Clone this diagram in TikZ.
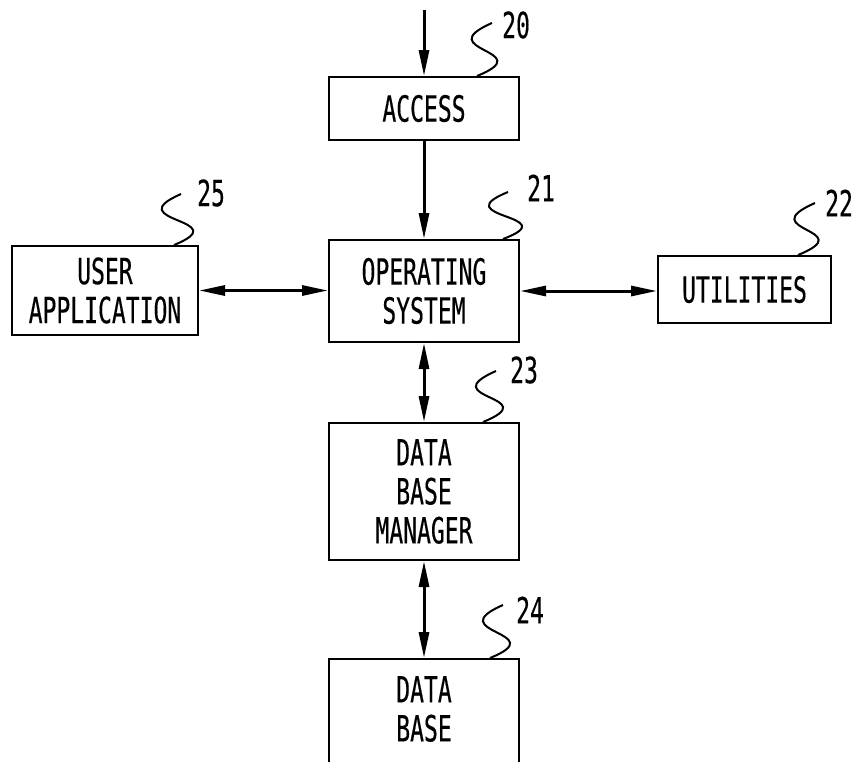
\documentclass[tikz,border=0pt]{standalone}
\usepackage{fontspec}
\newfontfamily\patfont[FakeStretch=0.64,FakeBold=0.35]{DejaVu Sans Mono}
\usetikzlibrary{arrows.meta}
\begin{document}
\begin{tikzpicture}[x=1pt,y=-1pt,
  lettering/.style={font=\patfont\fontsize{36pt}{39pt}\selectfont},
  box/.style={draw, line width=2pt, rectangle, inner sep=0pt, align=center, lettering},
  frame/.style={draw, line width=2pt, rectangle, inner sep=0pt},
  txt/.style={inner sep=0pt, align=center, lettering},
  num/.style={inner sep=0pt, anchor=west, lettering},
  lead/.style={line width=2pt},
  flow/.style={line width=3pt, -{Triangle[length=26pt,width=10pt]}},
  flowboth/.style={line width=3pt, {Triangle[length=26pt,width=10pt]}-{Triangle[length=26pt,width=10pt]}}]
  \useasboundingbox (0,0) rectangle (856,761);
  \clip (0,0) rectangle (856,761);
  \fill[white] (0,0) rectangle (856,761);

  % blocks
  \node[box, minimum width=190pt, minimum height=63pt]  (ACC) at (424,108.5) {ACCESS};
  \node[box, minimum width=190pt, minimum height=102pt] (OS)  at (424,291)   {OPERATING\\SYSTEM};
  \node[box, minimum width=190pt, minimum height=137pt] (DBM) at (424,491.5) {DATA\\BASE\\MANAGER};
  \node[frame, minimum width=190pt, minimum height=160pt, anchor=north] (DB) at (424,658) {};
  \node[txt] (DBT) at (424,709) {DATA\\BASE};
  \node[box, minimum width=186pt, minimum height=89pt]  (UA)  at (105,290.5) {USER\\APPLICATION};
  \node[box, minimum width=173pt, minimum height=67pt]  (UT)  at (744.5,289.5) {UTILITIES};

  % reference numerals
  \node[num] (L20) at (502,25)  {20};
  \node[num] (L21) at (527,188) {21};
  \node[num] (L22) at (825,203) {22};
  \node[num] (L23) at (510,370) {23};
  \node[num] (L24) at (516,610) {24};
  \node[num] (L25) at (197,193) {25};

  % leader lines
  \draw[lead] ([xshift=-43pt]ACC.north east) .. controls +(64,-26) and +(-64,28) .. ([xshift=-10pt,yshift=2pt]L20.west);
  \draw[lead] ([xshift=-17pt]OS.north east)  .. controls +(64,-24) and +(-64,26) .. ([xshift=-19pt,yshift=-4pt]L21.west);
  \draw[lead] ([xshift=-34pt]UT.north east)  .. controls +(64,-26) and +(-64,28) .. ([xshift=-10pt]L22.west);
  \draw[lead] ([xshift=-37pt]DBM.north east) .. controls +(64,-26) and +(-64,28) .. ([xshift=-14pt,yshift=-1pt]L23.west);
  \draw[lead] ([xshift=-30pt]DB.north east)  .. controls +(64,-26) and +(-64,28) .. ([xshift=-13pt,yshift=5pt]L24.west);
  \draw[lead] ([xshift=-25pt]UA.north east)  .. controls +(64,-26) and +(-64,28) .. ([xshift=-16pt,yshift=-1pt]L25.west);

  % signal paths
  \coordinate (IN) at (424,10);
  \draw[flow] (IN) -- (ACC.north);
  \draw[flow] (ACC.south) -- (OS.north);
  \draw[flowboth] (OS.south) -- (DBM.north);
  \draw[flowboth] (DBM.south) -- (DB.north);
  \draw[flowboth] (UA.east) -- (UA.east -| OS.west);
  \draw[flowboth] (OS.east) -- (OS.east -| UT.west);
\end{tikzpicture}
\end{document}
